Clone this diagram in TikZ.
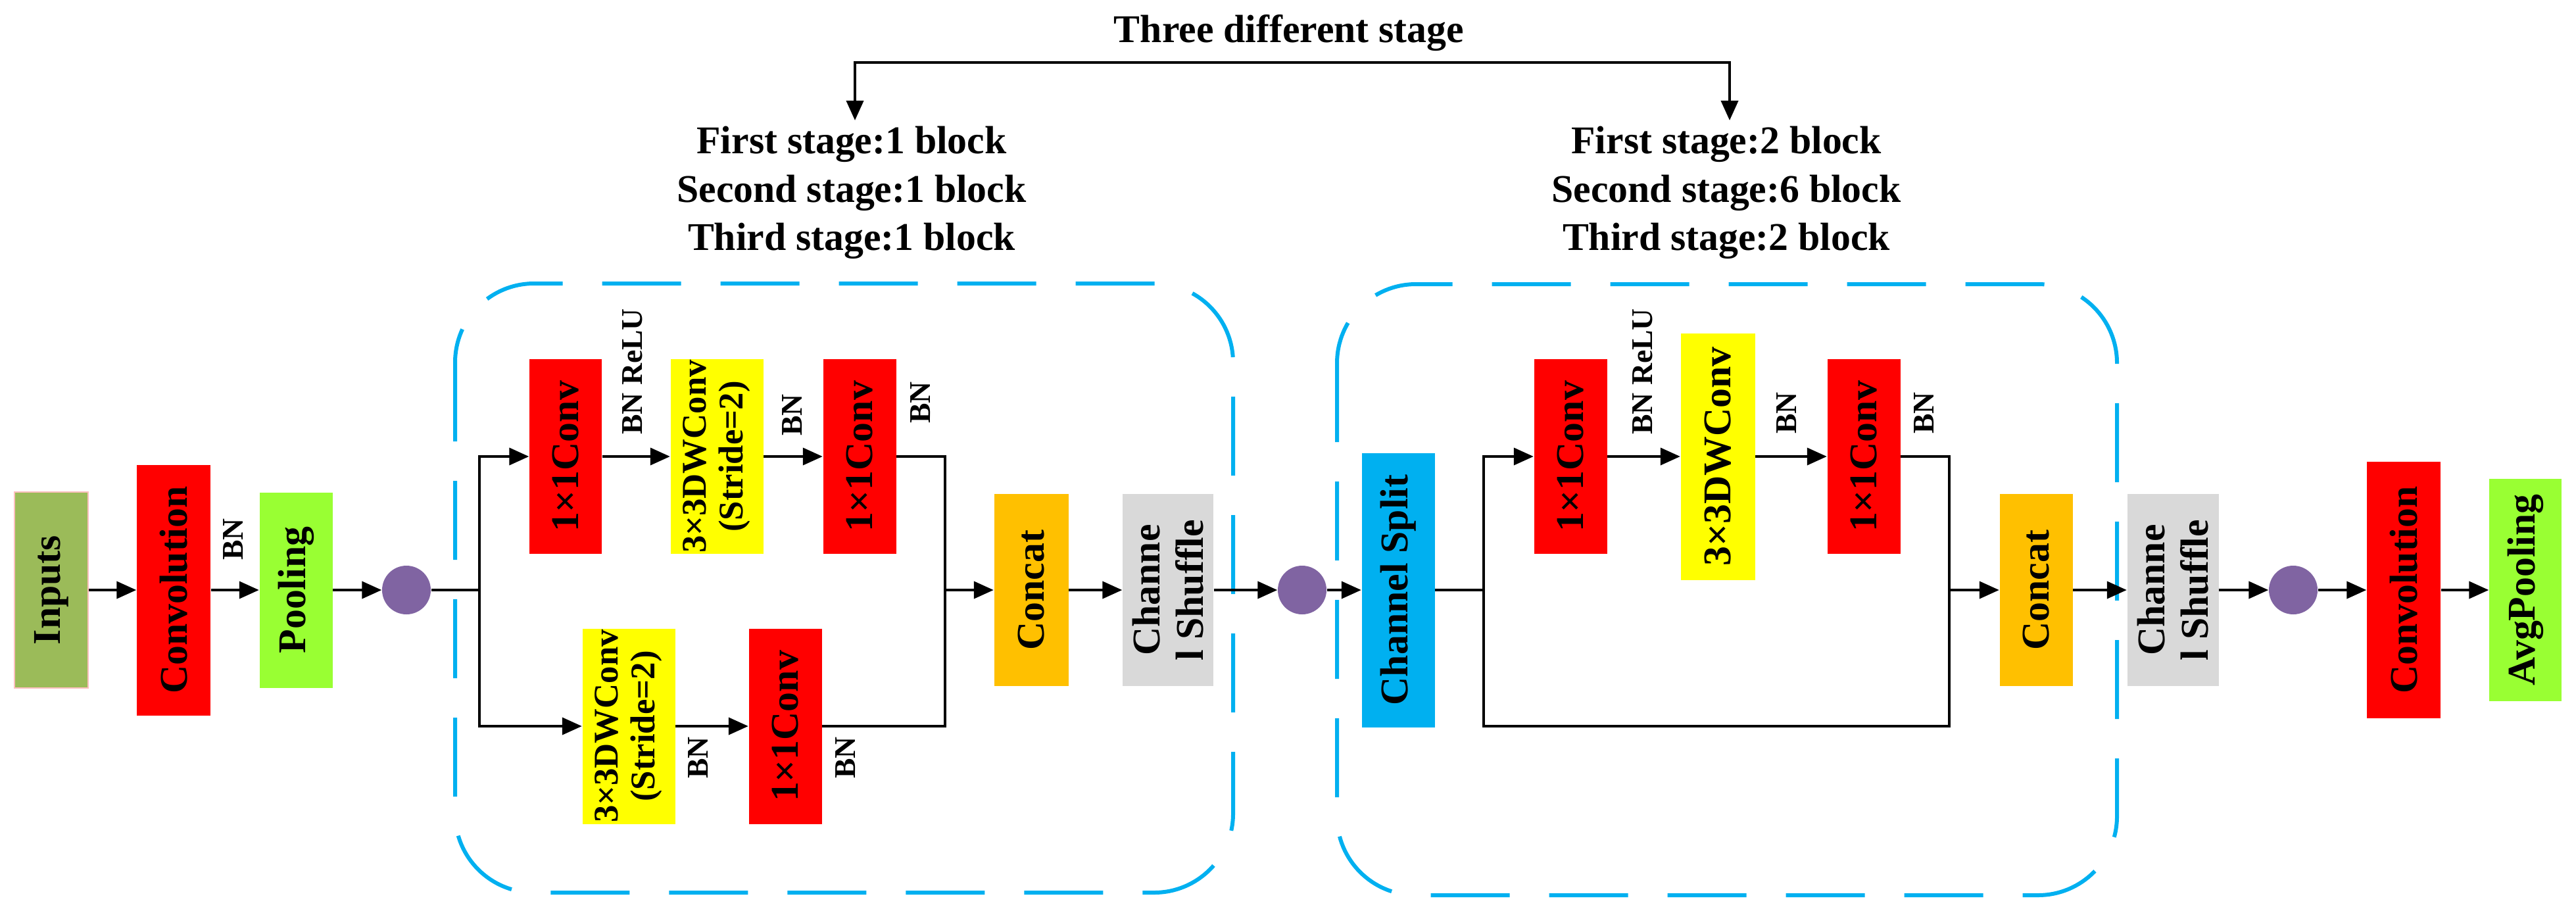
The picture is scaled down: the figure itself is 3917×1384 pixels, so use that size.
\documentclass[tikz,border=0pt]{standalone}
\usepackage{fontspec}
\setmainfont{Liberation Serif}
\usetikzlibrary{arrows.meta}
\definecolor{cinp}{HTML}{9BBB59}
\definecolor{cred}{HTML}{FF0000}
\definecolor{clime}{HTML}{99FF33}
\definecolor{cyel}{HTML}{FFFF00}
\definecolor{corg}{HTML}{FFC000}
\definecolor{cgry}{HTML}{D9D9D9}
\definecolor{cblu}{HTML}{00B0F0}
\definecolor{cpur}{HTML}{8064A2}
\tikzset{
  blk/.style={rotate=90,inner sep=0pt,align=center,font=\fontsize{17}{19}\selectfont\bfseries},
  dw/.style={blk,fill=cyel,font=\fontsize{15}{16}\selectfont\bfseries},
  lab/.style={rotate=90,font=\fontsize{13}{14}\selectfont\bfseries},
  circ/.style={circle,fill=cpur,minimum size=7.4mm,inner sep=0pt},
  ln/.style={line width=0.4mm,black},
  arr/.style={ln,-{Triangle[length=3mm,width=2.6mm]}},
  dbox/.style={cblu,line width=0.6mm,dash pattern=on 12mm off 6mm,rounded corners=12mm},
  ttl/.style={font=\fontsize{17}{21}\selectfont\bfseries,align=center}
}
\begin{document}
\begin{tikzpicture}[x=0.1mm,y=-0.1mm]
\useasboundingbox (0,0) rectangle (3917,1384);
% dashed boxes
\draw[dbox] (692,431) rectangle (1875,1357);
\draw[dbox] (2033,432) rectangle (3219,1361);
% blocks
\node[blk,fill=cinp,draw=red!25,minimum width=29.8mm,minimum height=11.2mm] (inp) at (78,897) {Inputs};
\node[blk,fill=cred,minimum width=38.1mm,minimum height=11.2mm] (conv1) at (264,897) {Convolution};
\node[blk,fill=clime,minimum width=29.7mm,minimum height=11.1mm] (pool) at (450,897) {Pooling};
\node[circ] (c1) at (618,897) {};
\node[blk,fill=cred,minimum width=29.6mm,minimum height=11mm] (a1) at (860,694) {1×1Conv};
\node[dw,minimum width=29.6mm,minimum height=14.1mm] (a2) at (1090,694) {3×3DWConv\\(Stride=2)};
\node[blk,fill=cred,minimum width=29.6mm,minimum height=11.1mm] (a3) at (1307,694) {1×1Conv};
\node[dw,minimum width=29.7mm,minimum height=14.1mm] (b1) at (956,1104) {3×3DWConv\\(Stride=2)};
\node[blk,fill=cred,minimum width=29.7mm,minimum height=11.1mm] (b2) at (1194,1104) {1×1Conv};
\node[blk,fill=corg,minimum width=29.2mm,minimum height=11.3mm] (cat1) at (1568,897) {Concat};
\node[blk,fill=cgry,minimum width=29.2mm,minimum height=13.8mm] (sh1) at (1776,897) {Channe\\l Shuffle};
\node[circ] (c2) at (1980,897) {};
\node[blk,fill=cblu,minimum width=41.7mm,minimum height=11.1mm] (sp) at (2126,897) {Channel Split};
\node[blk,fill=cred,minimum width=29.6mm,minimum height=11.1mm] (d1) at (2388,694) {1×1Conv};
\node[blk,fill=cyel,minimum width=37.5mm,minimum height=11.3mm] (d2) at (2612,694) {3×3DWConv};
\node[blk,fill=cred,minimum width=29.6mm,minimum height=11.1mm] (d3) at (2834,694) {1×1Conv};
\node[blk,fill=corg,minimum width=29.2mm,minimum height=11.1mm] (cat2) at (3096,897) {Concat};
\node[blk,fill=cgry,minimum width=29.2mm,minimum height=13.9mm] (sh2) at (3304,897) {Channe\\l Shuffle};
\node[circ] (c3) at (3487,897) {};
\node[blk,fill=cred,minimum width=39mm,minimum height=11.2mm] (conv2) at (3655,897) {Convolution};
\node[blk,fill=clime,minimum width=33.8mm,minimum height=11mm] (avg) at (3840,897) {AvgPooling};
% coordinates
\coordinate (s1) at (729,897);
\coordinate (r1) at (1437,897);
\coordinate (s2) at (2256,897);
\coordinate (r2) at (2964,897);
\coordinate (s2b) at (2256,1104);
\coordinate (r2b) at (2964,1104);
% connectors
\draw[arr] (inp) -- (conv1);
\draw[arr] (conv1) -- (pool);
\draw[arr] (pool) -- (c1);
\draw[ln] (c1) -- (s1);
\draw[arr] (s1) |- (a1);
\draw[arr] (s1) |- (b1);
\draw[arr] (a1) -- (a2);
\draw[arr] (a2) -- (a3);
\draw[arr] (b1) -- (b2);
\draw[ln] (a3.south) -| (r1);
\draw[ln] (b2.south) -| (r1);
\draw[arr] (r1) -- (cat1);
\draw[arr] (cat1) -- (sh1);
\draw[arr] (sh1) -- (c2);
\draw[arr] (c2) -- (sp);
\draw[ln] (sp) -- (s2);
\draw[arr] (s2) |- (d1);
\draw[ln] (s2) -- (s2b) -- (r2b) -- (r2);
\draw[arr] (d1) -- (d2);
\draw[arr] (d2) -- (d3);
\draw[ln] (d3.south) -| (r2);
\draw[arr] (r2) -- (cat2);
\draw[arr] (cat2) -- (sh2);
\draw[arr] (sh2) -- (c3);
\draw[arr] (c3) -- (conv2);
\draw[arr] (conv2) -- (avg);
% labels
\node[lab] (l1) at (355,820) {BN};
\node[lab] (l2) at (962,565) {BN ReLU};
\node[lab] (l3) at (1205,631) {BN};
\node[lab] (l4) at (1400,612) {BN};
\node[lab] (l5) at (1062,1152) {BN};
\node[lab] (l6) at (1286,1152) {BN};
\node[lab] (l7) at (2498,565) {BN ReLU};
\node[lab] (l8) at (2717,628) {BN};
\node[lab] (l9) at (2926,628) {BN};
% top
\node[ttl] (t0) at (1960,50) {Three different stage};
\node[ttl] (tl) at (1295,293) {First stage:1 block\\Second stage:1 block\\Third stage:1 block};
\node[ttl] (tr) at (2625,293) {First stage:2 block\\Second stage:6 block\\Third stage:2 block};
\coordinate (ba) at (1300,95);
\coordinate (bb) at (2630,95);
\coordinate (ea) at (1300,183);
\coordinate (eb) at (2630,183);
\draw[ln,{Triangle[length=3mm,width=2.6mm]}-{Triangle[length=3mm,width=2.6mm]}] (ea) -- (ba) -- (bb) -- (eb);
\end{tikzpicture}
\end{document}
